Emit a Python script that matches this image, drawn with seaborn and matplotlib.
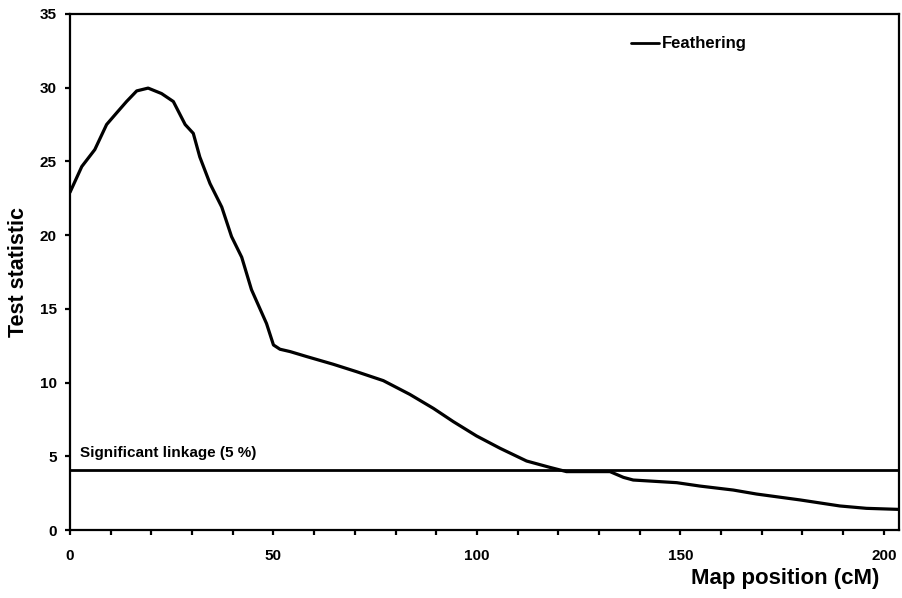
import numpy as np
import pandas as pd
import matplotlib
matplotlib.use("Agg")
import matplotlib.pyplot as plt
from matplotlib.ticker import MultipleLocator
import seaborn as sns

# Linkage scan along the chromosome
map_pos = [0, 2.9, 6.1, 9.0, 11.5, 13.9, 16.4, 19.2, 22.5, 25.4, 28.3, 30.3,
           31.9, 34.4, 37.3, 39.7, 42.2, 44.6, 48.3, 50.0, 51.6, 54.1, 58.2,
           64.7, 70.4, 77.0, 83.5, 89.3, 94.2, 99.9, 105.7, 112.2, 117.9,
           122.0, 129.4, 132.7, 136.0, 138.4, 149.1, 154.8, 163.0, 168.7,
           179.4, 189.2, 195.7, 203.5]
test_stat = [22.9, 24.65, 25.8, 27.5, 28.3, 29.06, 29.78, 29.97, 29.6, 29.06,
             27.5, 26.9, 25.3, 23.5, 21.9, 19.9, 18.5, 16.3, 14.0, 12.55,
             12.26, 12.1, 11.76, 11.24, 10.74, 10.13, 9.2, 8.25, 7.35, 6.38,
             5.54, 4.68, 4.25, 3.96, 3.96, 3.96, 3.57, 3.39, 3.21, 2.98, 2.71,
             2.44, 2.04, 1.63, 1.47, 1.40]
trait = "Feathering"
threshold = 4.1
threshold_label = "Significant linkage (5 %)"
x_major_ticks = [0, 50, 100, 150, 200]
y_ticks = [0, 5, 10, 15, 20, 25, 30, 35]

sns.set_theme(style="white")
plt.rcParams["font.family"] = ["Liberation Sans", "DejaVu Sans"]
plt.rcParams["font.weight"] = "bold"
plt.rcParams["text.color"] = "black"
plt.rcParams["axes.labelcolor"] = "black"

df = pd.DataFrame({"Map position (cM)": map_pos, "Test statistic": test_stat})

fig = plt.figure(figsize=(9.03, 5.98), dpi=100)
ax = fig.add_axes([0.0775, 0.1137, 0.918, 0.863])

sns.lineplot(data=df, x="Map position (cM)", y="Test statistic", ax=ax,
             color="black", linewidth=2.3, label=trait,
             solid_joinstyle="round", solid_capstyle="round")
ax.axhline(threshold, color="black", linewidth=2.0)
ax.text(2.5, 5.22, threshold_label, fontsize=11, fontweight="bold",
        ha="left", va="center", color="black")

ax.set_xlim(0, 203.7)
ax.set_ylim(0, 35)
ax.set_xticks(x_major_ticks)
ax.xaxis.set_minor_locator(MultipleLocator(10))
ax.set_yticks(y_ticks)

for spine in ax.spines.values():
    spine.set_visible(True)
    spine.set_color("black")
    spine.set_linewidth(1.6)

ax.tick_params(axis="x", which="both", direction="out", length=3.5, width=1.6,
               colors="black", labelsize=11, pad=10, bottom=True)
ax.tick_params(axis="y", which="both", direction="out", length=3.5, width=1.6,
               colors="black", labelsize=11, pad=6, left=True)
for lab in ax.get_xticklabels() + ax.get_yticklabels():
    lab.set_fontweight("bold")

ax.set_xlabel("Map position (cM)", fontsize=16, fontweight="bold", color="black")
ax.xaxis.label.set_horizontalalignment("right")
ax.xaxis.set_label_coords(0.977, -0.074)
ax.set_ylabel("Test statistic", fontsize=15.5, fontweight="bold", color="black")
ax.yaxis.set_label_coords(-0.049, 0.5)

leg = ax.legend(loc="center left", bbox_to_anchor=(0.677, 0.942), frameon=False,
                handlelength=1.65, handletextpad=0.2, borderpad=0,
                borderaxespad=0, prop={"size": 12, "weight": "bold"})
for txt in leg.get_texts():
    txt.set_color("black")
for line in leg.get_lines():
    line.set_linewidth(2.0)

fig.savefig("out.png", dpi=100, facecolor="white")
